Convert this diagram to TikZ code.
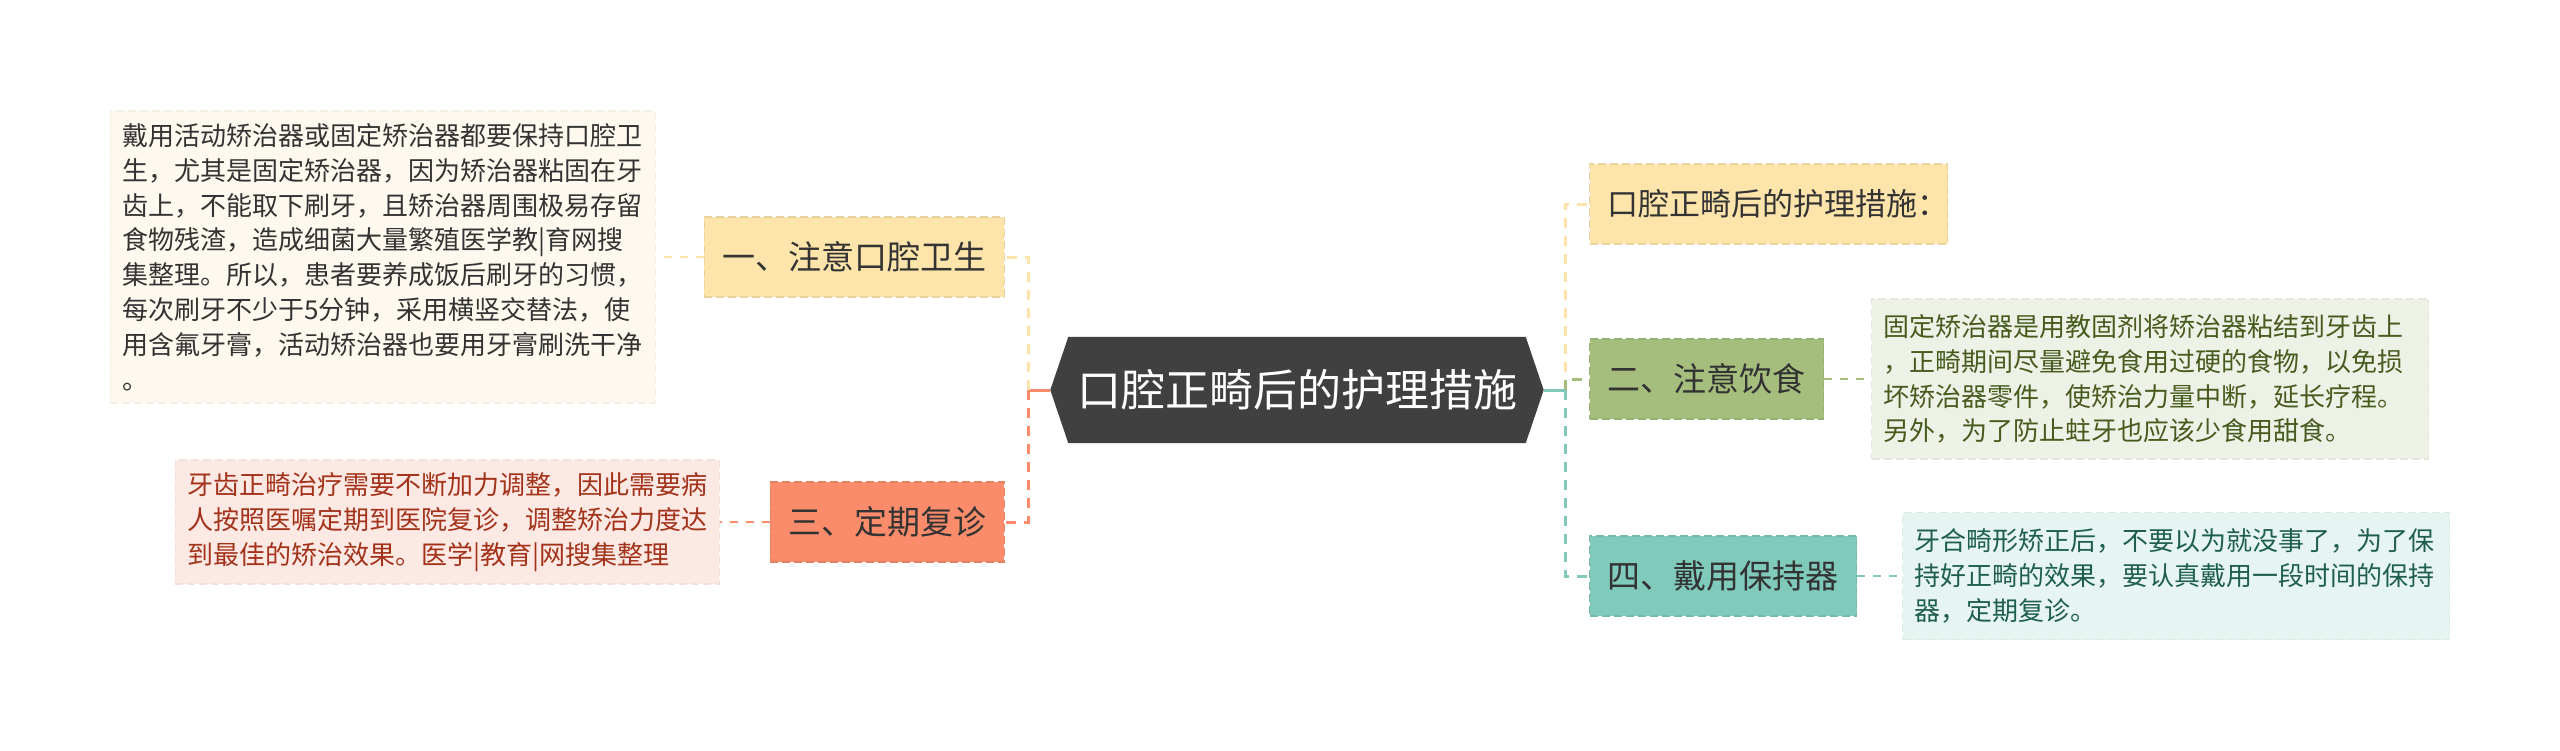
\documentclass[tikz,border=0pt]{standalone}
\usepackage{fontspec}
\setmainfont{Noto Sans CJK SC}
\usepackage{xcolor}
\usetikzlibrary{positioning,backgrounds}

\definecolor{hubc}{HTML}{404040}
\definecolor{yelc}{HTML}{FDE4AB}
\definecolor{orac}{HTML}{FB8C6B}
\definecolor{grnc}{HTML}{A5BE7D}
\definecolor{tealc}{HTML}{7FCABA}
\definecolor{yelbg}{HTML}{FDF9EF}
\definecolor{orabg}{HTML}{FDE9E3}
\definecolor{grnbg}{HTML}{EEF1E5}
\definecolor{tealbg}{HTML}{E6F5F1}
\definecolor{oratx}{HTML}{A3321B}
\definecolor{grntx}{HTML}{475B1F}
\definecolor{tealtx}{HTML}{1F5E50}

\begin{document}
\begin{tikzpicture}[x=1pt, y=-1pt,
  hub/.style={minimum width=457pt, minimum height=106pt, inner sep=0pt, text=white, font=\fontsize{44}{50}\selectfont},
  topic/.style={draw=#1!92!black, dash pattern=on 8pt off 4pt, line width=1.2pt, fill=#1, minimum height=80pt, inner xsep=18pt, text=black!80, font=\fontsize{33}{40}\selectfont},
  note/.style={draw=#1!96!black, dash pattern=on 8pt off 4pt, line width=1.2pt, fill=#1, inner xsep=12pt, align=left, font=\fontsize{26}{34.8}\selectfont},
  stem/.style={draw=#1, line width=3pt, dash pattern=on 10pt off 8pt},
  link/.style={draw=#1, line width=2pt, dash pattern=on 8pt off 8pt}
]
\useasboundingbox (0,0) rectangle (2560,750);
% Trunk positions
\def\yc{390} \def\xl{1028} \def\xr{1565}

% Centre
\node[hub] (hub) at (1297,\yc) {口腔正畸后的护理措施};
\coordinate (hubL) at ([xshift=-18pt]hub.west);
\coordinate (hubR) at ([xshift=18pt]hub.east);
\coordinate (trunkL) at (\xl,\yc);
\coordinate (trunkR) at (\xr,\yc);

% Left topics
\node[topic=yelc, anchor=east] (hyg) at (1005,257) {一、注意口腔卫生};
\node[topic=orac, anchor=east] (rev) at (1005,522) {三、定期复诊};
\node[note=yelbg, text width=521pt, minimum height=292pt, text=black!80, anchor=east] (hygT) at (656,257)
  {戴用活动矫治器或固定矫治器都要保持口腔卫\\生，尤其是固定矫治器，因为矫治器粘固在牙\\齿上，不能取下刷牙，且矫治器周围极易存留\\食物残渣，造成细菌大量繁殖医学教|育网搜\\集整理。所以，患者要养成饭后刷牙的习惯，\\每次刷牙不少于5分钟，采用横竖交替法，使\\用含氟牙膏，活动矫治器也要用牙膏刷洗干净\\。};
\node[note=orabg, text width=520pt, minimum height=124pt, text=oratx, anchor=east] (revT) at (720,522)
  {牙齿正畸治疗需要不断加力调整，因此需要病\\人按照医嘱定期到医院复诊，调整矫治力度达\\到最佳的矫治效果。医学|教育|网搜集整理};

% Right topics
\node[topic=yelc, anchor=west, font=\fontsize{31}{38}\selectfont] (ttl) at (1589,204)
  {口腔正畸后的护理措施\makebox[12pt][l]{：}};
\node[topic=grnc, anchor=west] (diet) at (1589,379) {二、注意饮食};
\node[topic=tealc, anchor=west] (keep) at (1589,576) {四、戴用保持器};
\node[note=grnbg, text width=533pt, minimum height=160pt, text=grntx, anchor=west] (dietT) at (1871,379)
  {固定矫治器是用教固剂将矫治器粘结到牙齿上\\，正畸期间尽量避免食用过硬的食物，以免损\\坏矫治器零件，使矫治力量中断，延长疗程。\\另外，为了防止蛀牙也应该少食用甜食。};
\node[note=tealbg, text width=523pt, minimum height=127pt, text=tealtx, anchor=west] (keepT) at (1902,576)
  {牙合畸形矫正后，不要以为就没事了，为了保\\持好正畸的效果，要认真戴用一段时间的保持\\器，定期复诊。};

% Hexagon behind the centre text
\begin{scope}[on background layer]
  \fill[white] (0,0) rectangle (2560,750);
  \fill[hubc] (hub.north west) -- (hub.north east) -- (hubR) -- (hub.south east)
    -- (hub.south west) -- (hubL) -- cycle;
\end{scope}

% Connectors
\draw[orac, line width=3pt] (hubL) -- (trunkL);
\draw[tealc, line width=3pt] (hubR) -- (trunkR);
\draw[stem=yelc] (trunkL) |- (hyg.east);
\draw[stem=orac] (trunkL) |- (rev.east);
\draw[stem=yelc] (trunkR) |- (ttl.west);
\draw[stem=grnc] (trunkR) |- (diet.west);
\draw[stem=tealc] (trunkR) |- (keep.west);
\draw[link=yelc] (hyg.west) -- (hygT.east);
\draw[link=orac] (rev.west) -- (revT.east);
\draw[link=grnc] (diet.east) -- (dietT.west);
\draw[link=tealc] (keep.east) -- (keepT.west);
\end{tikzpicture}
\end{document}
